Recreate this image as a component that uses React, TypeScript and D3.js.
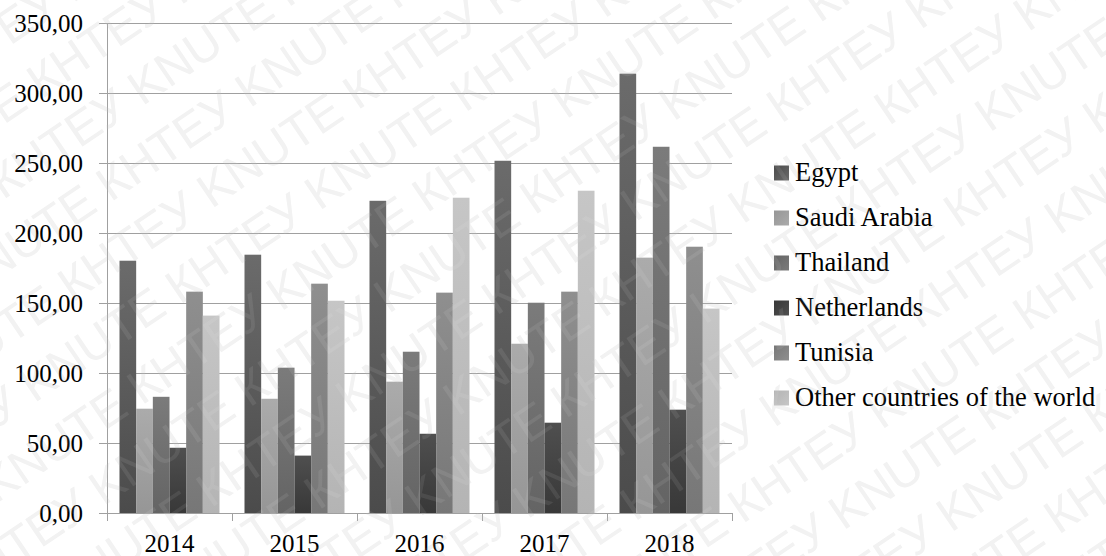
import React from "react";
import * as d3 from "d3";

// Years on the category axis
const years = ["2014", "2015", "2016", "2017", "2018"];

// Series names, in legend order
const countries = [
  "Egypt",
  "Saudi Arabia",
  "Thailand",
  "Netherlands",
  "Tunisia",
  "Other countries of the world",
];

// Values per series, one per year
const egypt = [180.2, 184.5, 223.0, 251.6, 313.8];
const saudiArabia = [74.5, 81.6, 93.8, 120.9, 182.4];
const thailand = [83.0, 103.8, 115.2, 150.2, 261.6];
const netherlands = [46.6, 41.0, 56.6, 64.5, 73.8];
const tunisia = [158.1, 163.8, 157.4, 158.1, 190.2];
const otherCountries = [141.0, 151.6, 225.2, 230.2, 146.0];

const seriesValues = [egypt, saudiArabia, thailand, netherlands, tunisia, otherCountries];

// Y axis ticks
const yTicks = [0, 50, 100, 150, 200, 250, 300, 350];

// Gradient stops (top, bottom) for each series
const seriesShades: [string, string][] = [
  ["#6b6b6b", "#4b4b4b"],
  ["#ababab", "#969696"],
  ["#7b7b7b", "#646464"],
  ["#4f4f4f", "#383838"],
  ["#8f8f8f", "#777777"],
  ["#c6c6c6", "#b4b4b4"],
];

const W = 1106;
const H = 556;
const plotLeft = 107;
const plotRight = 732;
const plotTop = 23;
const plotBottom = 513;

const serif = "Liberation Serif, DejaVu Serif, Noto Serif, serif";

function Watermark({ fill, opacity }: { fill: string; opacity: number }) {
  const rows: number[] = d3.range(-9, 10);
  const unit = "КНТЕУ KNUTE ";
  const line = unit.repeat(9);
  const rowGap = 62;
  return (
    <g
      transform={`translate(${W / 2},${H / 2}) rotate(-34)`}
      fill={fill}
      opacity={opacity}
      fontFamily="Liberation Sans, Arial, sans-serif"
      fontSize={48}
      pointerEvents="none"
    >
      {rows.map((r) => (
        <text key={r} x={-1100 + (r % 2 === 0 ? 0 : 88)} y={r * rowGap}>
          {line}
        </text>
      ))}
    </g>
  );
}

export default function App() {
  const x0 = d3.scaleBand<string>().domain(years).range([plotLeft, plotRight]).padding(0);
  const x1 = d3
    .scaleBand<string>()
    .domain(countries)
    .range([0, x0.bandwidth()])
    .paddingInner(0)
    .paddingOuter(0.75);
  const y = d3.scaleLinear().domain([0, 350]).range([plotBottom, plotTop]);

  const gridColor = "#a0a0a0";
  const boundaries = d3.range(years.length + 1).map((i) => plotLeft + i * x0.step());

  return (
    <svg
      width={W}
      height={H}
      style={{ position: "absolute", left: 0, top: 0, background: "#fff" }}
    >
      <defs>
        {seriesShades.map(([top, bottom], i) => (
          <linearGradient key={i} id={`bar-grad-${i}`} x1="0" y1="0" x2="0" y2="1">
            <stop offset="0%" stopColor={top} />
            <stop offset="100%" stopColor={bottom} />
          </linearGradient>
        ))}
        {seriesShades.map(([top, bottom], i) => (
          <linearGradient key={`l${i}`} id={`key-grad-${i}`} x1="0" y1="0" x2="1" y2="1">
            <stop offset="0%" stopColor={bottom} />
            <stop offset="100%" stopColor={top} />
          </linearGradient>
        ))}
      </defs>

      <rect width={W} height={H} fill="#fff" />
      <Watermark fill="#f1f1f1" opacity={1} />

      {/* Horizontal gridlines with left tick stubs */}
      {yTicks.map((t) => (
        <line
          key={t}
          x1={plotLeft - 8}
          x2={plotRight}
          y1={Math.round(y(t)) + 0.5}
          y2={Math.round(y(t)) + 0.5}
          stroke={gridColor}
          strokeWidth={1}
        />
      ))}

      {/* Bars */}
      {years.map((yr, yi) => (
        <g key={yr} transform={`translate(${x0(yr)},0)`}>
          {countries.map((c, ci) => {
            const v = seriesValues[ci][yi];
            return (
              <rect
                key={c}
                x={x1(c)}
                y={y(v)}
                width={x1.bandwidth()}
                height={y(0) - y(v)}
                fill={`url(#bar-grad-${ci})`}
              />
            );
          })}
        </g>
      ))}

      {/* Axes */}
      <line x1={plotLeft + 0.5} x2={plotLeft + 0.5} y1={plotTop} y2={plotBottom} stroke={gridColor} />
      <line
        x1={plotLeft - 8}
        x2={plotRight}
        y1={Math.round(y(0)) + 0.5}
        y2={Math.round(y(0)) + 0.5}
        stroke={gridColor}
      />
      {boundaries.map((bx, i) => (
        <line
          key={i}
          x1={Math.round(bx) + 0.5}
          x2={Math.round(bx) + 0.5}
          y1={plotBottom}
          y2={plotBottom + 8}
          stroke={gridColor}
        />
      ))}

      {/* Y tick labels */}
      {yTicks.map((t) => (
        <text
          key={t}
          x={83}
          y={y(t)}
          dy="0.34em"
          textAnchor="end"
          fontFamily={serif}
          fontSize={25}
          fill="#000"
        >
          {d3.format(".2f")(t).replace(".", ",")}
        </text>
      ))}

      {/* X tick labels */}
      {years.map((yr) => (
        <text
          key={yr}
          x={(x0(yr) as number) + x0.bandwidth() / 2}
          y={552}
          textAnchor="middle"
          fontFamily={serif}
          fontSize={25}
          fill="#000"
        >
          {yr}
        </text>
      ))}

      {/* Legend */}
      {countries.map((c, i) => {
        const cy = 173 + i * 45;
        return (
          <g key={c}>
            <rect x={774} y={cy - 7.5} width={15} height={15} fill={`url(#key-grad-${i})`} />
            <text x={795} y={cy} dy="0.3em" fontFamily={serif} fontSize={26.5} fill="#000">
              {c}
            </text>
          </g>
        );
      })}

      {/* Light overlay of the watermark across the marks */}
      <Watermark fill="#ffffff" opacity={0.08} />
    </svg>
  );
}
